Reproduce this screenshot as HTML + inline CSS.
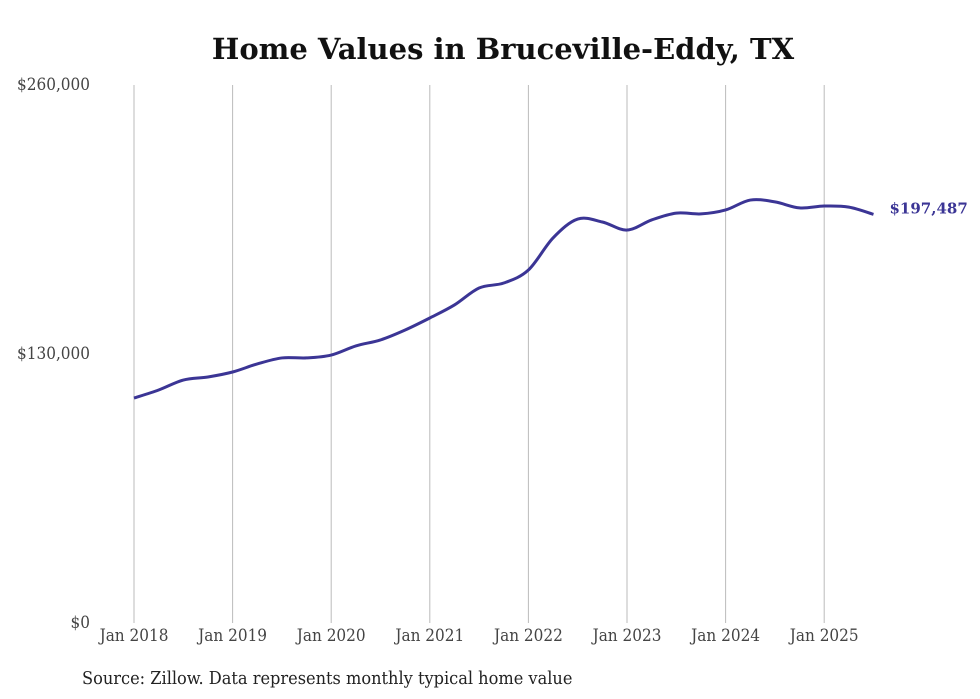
<!DOCTYPE html>
<html><head><meta charset="utf-8"><style>
body{margin:0;background:#fff;}
svg{display:block;}
</style></head><body>
<svg id="chart" width="980" height="699" xmlns="http://www.w3.org/2000/svg">
<text x="503" y="59" text-anchor="middle" font-family="'DejaVu Serif','Liberation Serif',serif" font-weight="bold" font-size="29" fill="#111">Home Values in Bruceville-Eddy, TX</text>
<g id="grid"></g>
<g id="yaxis"></g>
<g id="xaxis"></g>
<path id="line" fill="none" stroke="#3b3595" stroke-width="3" stroke-linejoin="round"/>
<text id="endlabel" font-family="'DejaVu Serif','Liberation Serif',serif" font-weight="bold" font-size="15" fill="#3b3595"></text>
<text x="82" y="684" font-family="'DejaVu Serif Condensed','DejaVu Serif',serif" font-stretch="condensed" font-size="18" fill="#222">Source: Zillow. Data represents monthly typical home value</text>
</svg>
<script>
const yTicks=[0,130000,260000];
const yTickLabels=["$0","$130,000","$260,000"];
const xTickYears=[2018,2019,2020,2021,2022,2023,2024,2025];
const xTickLabels=["Jan 2018","Jan 2019","Jan 2020","Jan 2021","Jan 2022","Jan 2023","Jan 2024","Jan 2025"];
const dates=[2018,2018.25,2018.5,2018.75,2019,2019.25,2019.5,2019.75,2020,2020.25,2020.5,2020.75,2021,2021.25,2021.5,2021.75,2022,2022.25,2022.5,2022.75,2023,2023.25,2023.5,2023.75,2024,2024.25,2024.5,2024.75,2025,2025.25,2025.5];
const values=[108700,112600,117400,118900,121300,125200,128100,128100,129500,133900,136800,141600,147400,153700,161900,164300,170600,186100,195200,193800,189900,194800,198100,197700,199600,204400,203500,200600,201500,201000,197487];
const endLabel="$197,487";

const NS="http://www.w3.org/2000/svg";
const x=d=>134+(d-2018)*98.6;
const y=v=>623-v/260000*538;
const tickFont="'DejaVu Serif Condensed','DejaVu Serif',serif";
function mk(tag,attrs,parent,text){const e=document.createElementNS(NS,tag);for(const k in attrs)e.setAttribute(k,attrs[k]);if(text!==undefined)e.textContent=text;parent.appendChild(e);return e;}
const grid=document.getElementById('grid'),xa=document.getElementById('xaxis'),ya=document.getElementById('yaxis');
xTickYears.forEach((yr,i)=>{
  const l=mk('line',{x1:x(yr),x2:x(yr),y1:85,y2:623,stroke:'#bbb','stroke-width':1},grid);
  
  
  const t=mk('text',{x:x(yr),y:641,'text-anchor':'middle','font-family':tickFont,'font-stretch':'condensed','font-size':17,fill:'#444'},xa,xTickLabels[i]);
  
  
});
yTicks.forEach((v,i)=>{
  const t=mk('text',{x:90,y:y(v)+5,'text-anchor':'end','font-family':tickFont,'font-stretch':'condensed','font-size':17,fill:'#444'},ya,yTickLabels[i]);
  
  
});
const pts=dates.map((d,i)=>[x(d),y(values[i])]);
let p='M'+pts[0][0]+','+pts[0][1];
for(let i=0;i<pts.length-1;i++){
  const p0=pts[Math.max(0,i-1)],p1=pts[i],p2=pts[i+1],p3=pts[Math.min(pts.length-1,i+2)];
  const c1=[p1[0]+(p2[0]-p0[0])/6,p1[1]+(p2[1]-p0[1])/6];
  const c2=[p2[0]-(p3[0]-p1[0])/6,p2[1]-(p3[1]-p1[1])/6];
  p+=` C${c1[0]},${c1[1]} ${c2[0]},${c2[1]} ${p2[0]},${p2[1]}`;
}
document.getElementById('line').setAttribute('d',p);
const last=pts[pts.length-1];
const el=document.getElementById('endlabel');
el.setAttribute('x',last[0]+16);el.setAttribute('y',last[1]-1);el.textContent=endLabel;
</script>
</body></html>
